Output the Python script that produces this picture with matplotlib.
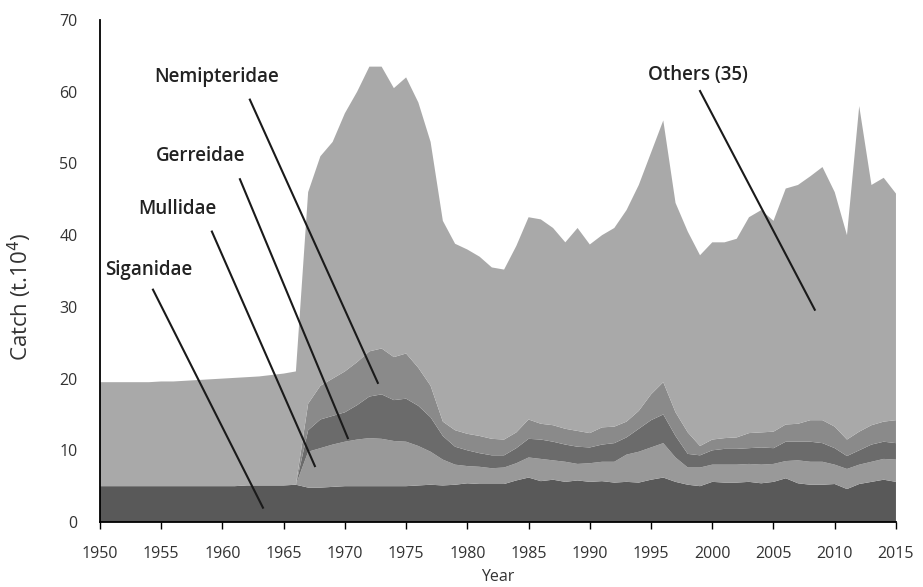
import numpy as np
import matplotlib.pyplot as plt

years = np.arange(1950, 2016)

# cumulative boundaries
top_siganidae = [5.0, 5.0, 5.0, 5.0, 5.0, 5.0, 5.0, 5.0, 5.0, 5.0,
                 5.0, 5.0, 5.1, 5.1, 5.1, 5.1, 5.2,
                 4.8, 4.8, 4.9, 5.0, 5.0, 5.0, 5.0, 5.0, 5.0, 5.1, 5.2, 5.1, 5.2,
                 5.4, 5.3, 5.3, 5.3, 5.8, 6.2, 5.7, 5.9, 5.6, 5.8,
                 5.6, 5.7, 5.5, 5.6, 5.5, 5.9, 6.2, 5.6, 5.2, 5.0,
                 5.6, 5.5, 5.5, 5.6, 5.4, 5.6, 6.1, 5.4, 5.2, 5.2,
                 5.3, 4.6, 5.3, 5.6, 5.9, 5.6]
top_mullidae = [5.0, 5.0, 5.0, 5.0, 5.0, 5.0, 5.0, 5.0, 5.0, 5.0,
                5.0, 5.0, 5.1, 5.1, 5.1, 5.1, 5.2,
                9.8, 10.3, 10.8, 11.2, 11.5, 11.7, 11.6, 11.3, 11.2, 10.6, 9.8, 8.7, 8.0,
                7.8, 7.7, 7.5, 7.6, 8.2, 9.0, 8.8, 8.6, 8.4, 8.1,
                8.2, 8.4, 8.4, 9.4, 9.8, 10.4, 11.0, 9.0, 7.6, 7.6,
                8.0, 8.0, 8.0, 8.1, 8.0, 8.1, 8.5, 8.6, 8.4, 8.4,
                8.0, 7.4, 8.0, 8.4, 8.8, 8.7]
top_gerreidae = [5.0, 5.0, 5.0, 5.0, 5.0, 5.0, 5.0, 5.0, 5.0, 5.0,
                 5.0, 5.0, 5.1, 5.1, 5.1, 5.1, 5.2,
                 12.8, 14.3, 14.8, 15.3, 16.3, 17.5, 17.8, 17.0, 17.2, 16.2, 14.6, 12.0, 10.5,
                 10.0, 9.6, 9.3, 9.3, 10.3, 11.6, 11.5, 11.2, 10.8, 10.5,
                 10.4, 10.8, 11.0, 11.8, 13.0, 14.2, 15.0, 12.0, 9.5, 9.3,
                 10.0, 10.2, 10.2, 10.3, 10.4, 10.3, 11.2, 11.2, 11.2, 11.0,
                 10.3, 9.2, 10.0, 10.8, 11.2, 11.0]
top_nemipteridae = [5.0, 5.0, 5.0, 5.0, 5.0, 5.0, 5.0, 5.0, 5.0, 5.0,
                    5.0, 5.0, 5.1, 5.1, 5.1, 5.1, 5.2,
                    16.5, 19.0, 20.0, 21.0, 22.3, 23.8, 24.2, 23.0, 23.5, 21.5, 19.0, 14.0, 12.8,
                    12.3, 12.0, 11.6, 11.5, 12.5, 14.3, 13.7, 13.5, 13.0, 12.7,
                    12.4, 13.2, 13.3, 14.0, 15.5, 17.8, 19.5, 15.3, 12.5, 10.6,
                    11.5, 11.7, 11.8, 12.4, 12.5, 12.6, 13.6, 13.7, 14.2, 14.2,
                    13.3, 11.5, 12.6, 13.5, 14.0, 14.2]
total = [19.5, 19.5, 19.5, 19.5, 19.5, 19.6, 19.6, 19.7, 19.8, 19.9,
         20.0, 20.1, 20.2, 20.3, 20.5, 20.7, 21.0,
         46.0, 51.0, 53.0, 57.0, 60.0, 63.5, 63.5, 60.5, 62.0, 58.5, 53.0, 42.0, 38.8,
         38.0, 37.0, 35.5, 35.2, 38.5, 42.5, 42.2, 41.0, 39.0, 41.0,
         38.7, 40.0, 41.0, 43.5, 47.0, 51.5, 56.0, 44.5, 40.5, 37.2,
         39.0, 39.0, 39.5, 42.5, 43.5, 42.0, 46.5, 47.0, 48.2, 49.5,
         46.0, 40.0, 58.0, 47.0, 48.0, 45.8]

siganidae = np.array(top_siganidae)
mullidae = np.array(top_mullidae) - np.array(top_siganidae)
gerreidae = np.array(top_gerreidae) - np.array(top_mullidae)
nemipteridae = np.array(top_nemipteridae) - np.array(top_gerreidae)
others = np.array(total) - np.array(top_nemipteridae)

colors = ['#595959', '#999999', '#6b6b6b', '#8a8a8a', '#a9a9a9']

plt.rcParams['font.family'] = ['Open Sans', 'DejaVu Sans']

fig = plt.figure(figsize=(9.23, 5.87), dpi=100)
ax = fig.add_axes([0.1083, 0.1107, 0.8624, 0.8552])

ax.stackplot(years, siganidae, mullidae, gerreidae, nemipteridae, others,
             colors=colors, linewidth=0)

ax.set_xlim(1950, 2015)
ax.set_ylim(0, 70)
ax.set_xticks(np.arange(1950, 2016, 5))
ax.set_yticks(np.arange(0, 71, 10))
ax.spines['top'].set_visible(False)
ax.spines['right'].set_visible(False)
ax.spines['left'].set_linewidth(1.3)
ax.spines['bottom'].set_linewidth(1.3)
ax.tick_params(axis='y', length=0, pad=16, labelsize=11.5, labelcolor='#333333')
ax.tick_params(axis='x', length=5, width=1, pad=12, labelsize=11.5,
               labelcolor='#333333', direction='out')
ax.set_xlabel('Year', fontsize=11.5, color='#333333')
ax.xaxis.set_label_coords(0.5, -0.094)
ax.set_ylabel('Catch (t.10$^4$)', fontsize=16, color='#333333')
ax.yaxis.set_label_coords(-0.083, 0.448)

labels = [('Nemipteridae', (1959.55, 62.0), (1962.24, 58.9), (1972.69, 19.4)),
          ('Gerreidae', (1958.24, 51.0), (1961.43, 47.8), (1970.24, 11.7)),
          ('Mullidae', (1956.29, 43.6), (1959.14, 40.5), (1967.55, 7.8)),
          ('Siganidae', (1954.0, 35.2), (1954.33, 32.4), (1963.31, 2.0)),
          ('Others (35)', (1998.8, 62.4), (1999.0, 60.1), (2008.37, 29.6))]
for name, txt, p0, p1 in labels:
    ax.text(txt[0], txt[1], name, ha='center', va='center', fontsize=13.5,
            fontweight='semibold', color='#222222')
    ax.plot([p0[0], p1[0]], [p0[1], p1[1]], color='#1a1a1a', lw=1.5)

fig.savefig('out.png', dpi=100)
